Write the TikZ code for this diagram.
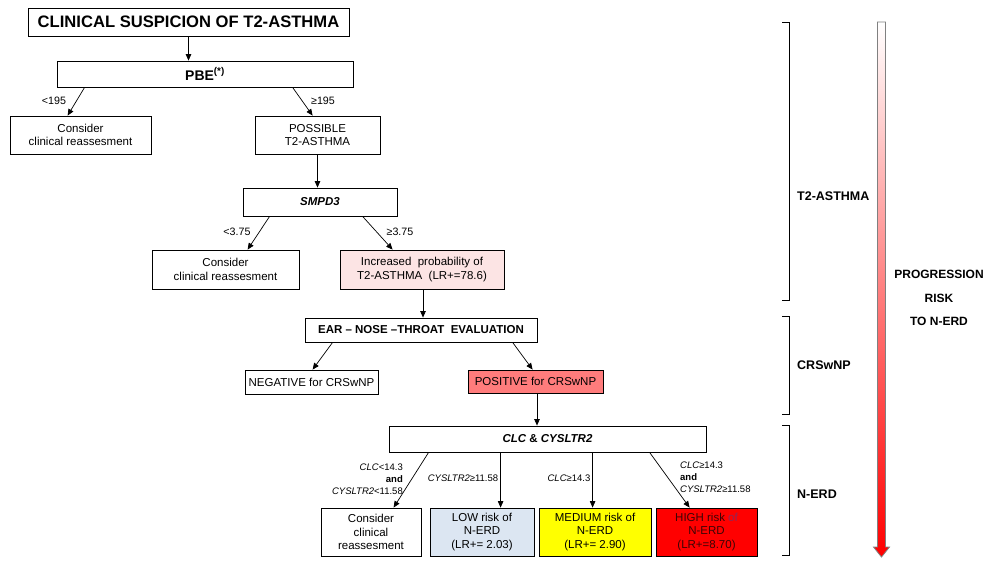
\documentclass[tikz,border=0pt]{standalone}
\usepackage{fontspec}
\setmainfont{Liberation Sans}
\usetikzlibrary{arrows.meta}
\definecolor{pinkfill}{RGB}{252,228,228}
\definecolor{posfill}{RGB}{255,124,124}
\definecolor{lowfill}{RGB}{220,230,242}
\definecolor{medfill}{RGB}{255,255,0}
\definecolor{highfill}{RGB}{255,0,0}
\definecolor{hightext}{RGB}{60,5,5}
\definecolor{ofcol}{RGB}{140,40,90}
\tikzset{
  box/.style={draw=black, line width=0.8pt, inner sep=0pt, align=center, font=\fontsize{11.5}{13.5}\selectfont},
  arr/.style={-{Triangle[length=6.5pt,width=5.5pt]}, line width=0.7pt},
  lbl/.style={inner sep=0pt, font=\fontsize{10.7}{12}\selectfont},
  smalllbl/.style={inner sep=0pt, align=right, font=\fontsize{9.5}{12}\selectfont},
  side/.style={inner sep=0pt, font=\bfseries\fontsize{12.5}{14}\selectfont},
  brk/.style={line width=1pt}
}
\begin{document}
\begin{tikzpicture}[x=1pt,y=-1pt]
\useasboundingbox (0,0) rectangle (995,562);
\fill[white] (0,0) rectangle (995,562);

% boxes
\node[box, minimum width=321, minimum height=28, font=\bfseries\fontsize{16.6}{18}\selectfont] (title) at (188.5,22) {CLINICAL SUSPICION OF T2-ASTHMA};
\node[box, minimum width=296, minimum height=26, font=\bfseries\fontsize{14}{15}\selectfont] (pbe) at (205,74) {PBE\textsuperscript{(*)}};
\node[box, minimum width=141, minimum height=38] (cons1) at (80.5,135) {Consider\\clinical reassesment};
\node[box, minimum width=125, minimum height=38] (poss) at (317.5,135) {POSSIBLE\\T2-ASTHMA};
\node[box, minimum width=154, minimum height=28, font=\bfseries\itshape\fontsize{11.5}{13}\selectfont] (smpd) at (320,202) {SMPD3};
\node[box, minimum width=147, minimum height=39] (cons2) at (225.5,269.5) {Consider\\clinical reassesment};
\node[box, fill=pinkfill, minimum width=164, minimum height=39] (incr) at (422,269.5) {Increased\ \ probability of\\T2-ASTHMA\ \ (LR+=78.6)};
\node[box, minimum width=232, minimum height=24, font=\bfseries\fontsize{11.5}{13}\selectfont] (ent) at (421,330) {EAR -- NOSE --THROAT\ \ EVALUATION};
\node[box, minimum width=133, minimum height=24] (neg) at (311.5,382) {NEGATIVE for CRSwNP};
\node[box, fill=posfill, minimum width=135, minimum height=23] (pos) at (535.5,381.5) {POSITIVE for CRSwNP};
\node[box, minimum width=317, minimum height=26, font=\bfseries\itshape\fontsize{11.5}{13}\selectfont] (clc) at (547.5,439) {CLC {\upshape\&} CYSLTR2};
\node[box, minimum width=100, minimum height=48] (cons3) at (371,532) {Consider\\clinical\\reassesment};
\node[box, fill=lowfill, minimum width=104, minimum height=48] (low) at (482,532) {LOW risk of\\N-ERD\\(LR+= 2.03)};
\node[box, fill=medfill, minimum width=112, minimum height=48] (med) at (595,532) {MEDIUM\ risk of\\N-ERD\\(LR+= 2.90)};
\node[box, fill=highfill, text=hightext, minimum width=101, minimum height=48] (high) at (706.5,532) {HIGH\ risk {\color{ofcol}of}\\N-ERD\\(LR+=8.70)};

% connectors
\draw[arr] (title.south) -- (title.south |- pbe.north);
\draw[arr] ([xshift=28]pbe.south west) -- ([xshift=58]cons1.north west);
\draw[arr] ([xshift=236]pbe.south west) -- ([xshift=58]poss.north west);
\draw[arr] (poss.south) -- (poss.south |- smpd.north);
\draw[arr] ([xshift=27]smpd.south west) -- ([xshift=96]cons2.north west);
\draw[arr] ([xshift=120]smpd.south west) -- ([xshift=53]incr.north west);
\draw[arr] ([xshift=1]incr.south) -- ([xshift=1]incr.south |- ent.north);
\draw[arr] ([xshift=28]ent.south west) -- ([xshift=68]neg.north west);
\draw[arr] ([xshift=208]ent.south west) -- ([xshift=65]pos.north west);
\draw[arr] ([xshift=1.5]pos.south) -- ([xshift=1.5]pos.south |- clc.north);
\draw[arr] ([xshift=40]clc.south west) -- ([xshift=73]cons3.north west);
\draw[arr] ([xshift=112]clc.south west) -- ([xshift=71]low.north west);
\draw[arr] ([xshift=204]clc.south west) -- ([xshift=54]med.north west);
\draw[arr] ([xshift=261]clc.south west) -- ([xshift=34]high.north west);

% edge labels
\node[lbl] (l1) at (54,101) {<195};
\node[lbl] (l2) at (323,101) {≥195};
\node[lbl] (l3) at (237,232) {<3.75};
\node[lbl] (l4) at (400,232) {≥3.75};
\node[smalllbl, anchor=east] (l5) at (403,479) {\textit{CLC}<14.3\\\textbf{and}\\\textit{CYSLTR2}<11.58};
\node[smalllbl] (l6) at (463,478) {\textit{CYSLTR2}≥11.58};
\node[smalllbl] (l7) at (569,478) {\textit{CLC}≥14.3};
\node[smalllbl, align=left, anchor=west] (l8) at (680,477) {\textit{CLC}≥14.3\\\textbf{and}\\\textit{CYSLTR2}≥11.58};

% side brackets
\draw[brk] (782,22) -- (789,22) -- (789,300) -- (782,300);
\draw[brk] (782,316) -- (789,316) -- (789,414) -- (782,414);
\draw[brk] (782,425) -- (789,425) -- (789,555) -- (782,555);
\node[side, anchor=west] (s1) at (797,196) {T2-ASTHMA};
\node[side, anchor=west] (s2) at (797,365) {CRSwNP};
\node[side, anchor=west] (s3) at (797,494) {N-ERD};

% gradient arrow
\shade[top color=white, bottom color=red, draw=gray, line width=0.8pt]
  (877.5,22) -- (885.5,22) -- (885.5,547) -- (889.5,547) -- (881.5,557) -- (873.5,547) -- (877.5,547) -- cycle;
\node[side, align=center, font=\bfseries\fontsize{12}{23.5}\selectfont] (prog) at (939,298) {PROGRESSION\\RISK\\TO N-ERD};
\end{tikzpicture}
\end{document}
